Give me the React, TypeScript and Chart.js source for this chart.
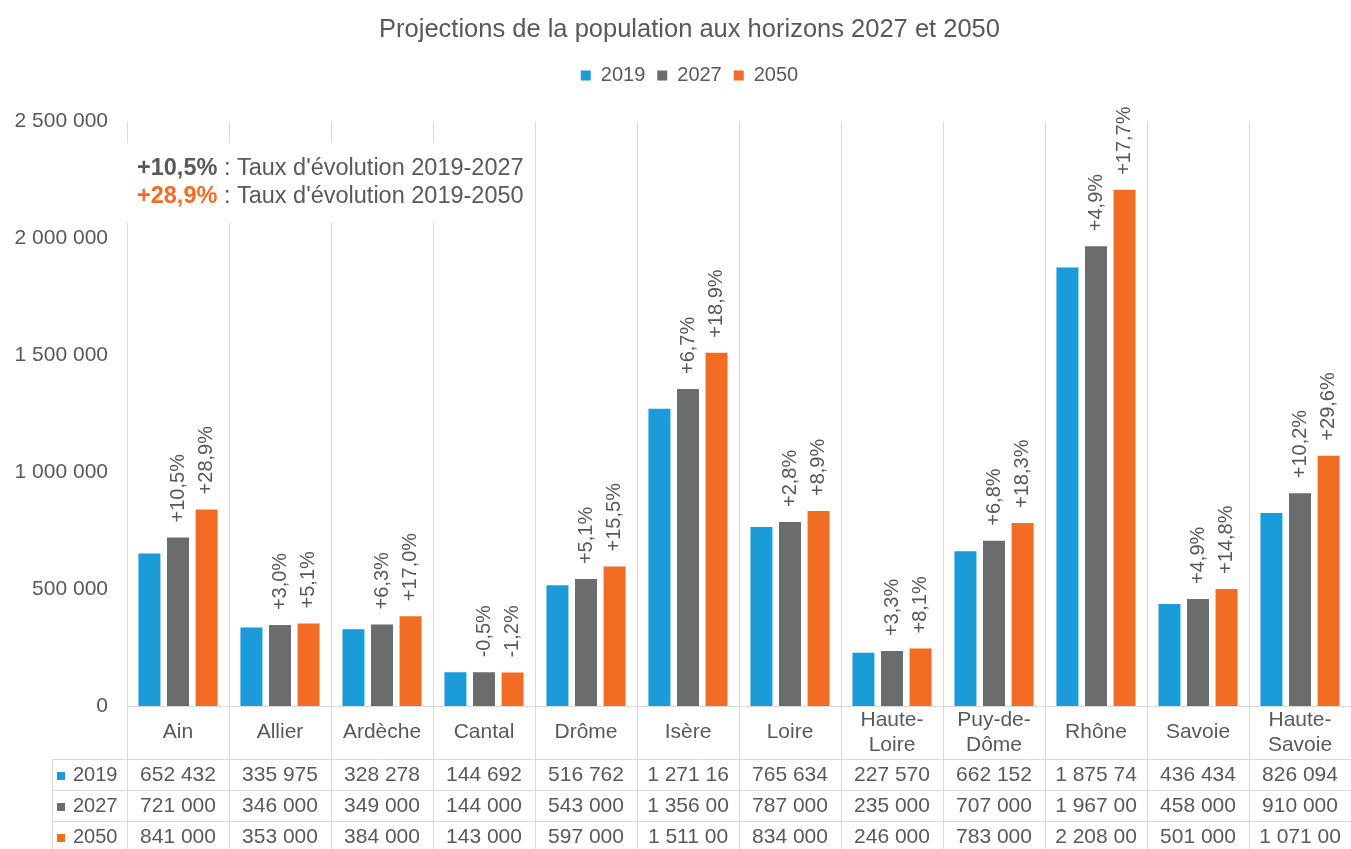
import React, { useEffect, useRef } from 'react';
import { Chart, registerables } from 'chart.js';

Chart.register(...registerables);

// ---------- data ----------
const categories: string[][] = [
  ['Ain'], ['Allier'], ['Ardèche'], ['Cantal'], ['Drôme'], ['Isère'], ['Loire'],
  ['Haute-', 'Loire'], ['Puy-de-', 'Dôme'], ['Rhône'], ['Savoie'], ['Haute-', 'Savoie'],
];
const seriesNames = ['2019', '2027', '2050'];
const pop2019 = [652432, 335975, 328278, 144692, 516762, 1271166, 765634, 227570, 662152, 1875747, 436434, 826094];
const pop2027 = [721000, 346000, 349000, 144000, 543000, 1356000, 787000, 235000, 707000, 1967000, 458000, 910000];
const pop2050 = [841000, 353000, 384000, 143000, 597000, 1511000, 834000, 246000, 783000, 2208000, 501000, 1071000];
const pct2027 = ['+10,5%', '+3,0%', '+6,3%', '-0,5%', '+5,1%', '+6,7%', '+2,8%', '+3,3%', '+6,8%', '+4,9%', '+4,9%', '+10,2%'];
const pct2050 = ['+28,9%', '+5,1%', '+17,0%', '-1,2%', '+15,5%', '+18,9%', '+8,9%', '+8,1%', '+18,3%', '+17,7%', '+14,8%', '+29,6%'];
const yMax = 2500000;
const yStep = 500000;
const titleText = 'Projections de la population aux horizons 2027 et 2050';
const noteLines: [string, string][] = [
  ['+10,5%', " : Taux d'évolution 2019-2027"],
  ['+28,9%', " : Taux d'évolution 2019-2050"],
];

// ---------- style ----------
const FONT = "'Liberation Sans', Arial, sans-serif";
const TEXT = '#595959';
const GRID = '#d9d9d9';
const COLORS = ['#1B9BD7', '#6B6C6E', '#F26C23'];
const NOTE_COLORS = [TEXT, '#F26C23'];

const fmt = (v: number) => String(v).replace(/\B(?=(\d{3})+(?!\d))/g, ' ');
const seriesData = [pop2019, pop2027, pop2050];
const pctLabels = [null, pct2027, pct2050];

const decorPlugin = {
  id: 'decor',
  afterLayout(chart: any) {
    // let the y tick labels use the full left margin (no clipping)
    if (chart.scales.y) chart.scales.y.left = 0;
  },
  beforeDatasetsDraw(chart: any) {
    const { ctx, chartArea } = chart;
    const x = chart.scales.x;
    const H = chart.height;
    const n = categories.length;
    const step = x.getPixelForValue(1) - x.getPixelForValue(0);
    ctx.save();
    ctx.strokeStyle = GRID;
    ctx.lineWidth = 1;
    // vertical separators (through plot and table)
    for (let i = 0; i <= n; i++) {
      const px = Math.round(x.getPixelForValue(0) - step / 2 + i * step) + 0.5;
      ctx.beginPath();
      ctx.moveTo(px, chartArea.top);
      ctx.lineTo(px, H);
      ctx.stroke();
    }
    // baseline
    const by = Math.round(chartArea.bottom) + 0.5;
    ctx.beginPath();
    ctx.moveTo(chartArea.left, by);
    ctx.lineTo(chartArea.right, by);
    ctx.stroke();
    // table rows
    const rowTop = chartArea.bottom + 53;
    const rowH = 31;
    const tableLeft = 52;
    for (let r = 0; r < 3; r++) {
      const ly = Math.round(rowTop + r * rowH) + 0.5;
      ctx.beginPath();
      ctx.moveTo(tableLeft, ly);
      ctx.lineTo(chartArea.right, ly);
      ctx.stroke();
    }
    ctx.beginPath();
    ctx.moveTo(tableLeft + 0.5, rowTop);
    ctx.lineTo(tableLeft + 0.5, H);
    ctx.stroke();

    // annotation box
    const bx = chartArea.left - 2;
    const bTop = chartArea.top + 21;
    ctx.fillStyle = '#ffffff';
    ctx.fillRect(bx, bTop, 404, 80);
    ctx.textBaseline = 'middle';
    ctx.textAlign = 'left';
    noteLines.forEach(([bold, rest], i) => {
      const ty = bTop + 26 + i * 28;
      ctx.font = `bold 23.5px ${FONT}`;
      ctx.fillStyle = NOTE_COLORS[i];
      ctx.fillText(bold, chartArea.left + 10, ty);
      const w = ctx.measureText(bold).width;
      ctx.font = `23.5px ${FONT}`;
      ctx.fillStyle = TEXT;
      ctx.fillText(rest, chartArea.left + 10 + w, ty);
    });
    ctx.restore();
  },
  afterDatasetsDraw(chart: any) {
    const { ctx } = chart;
    ctx.save();
    ctx.font = `20px ${FONT}`;
    ctx.fillStyle = TEXT;
    ctx.textAlign = 'left';
    ctx.textBaseline = 'middle';
    pctLabels.forEach((labels, d) => {
      if (!labels) return;
      const meta = chart.getDatasetMeta(d);
      meta.data.forEach((bar: any, i: number) => {
        ctx.save();
        ctx.translate(bar.x, bar.y - 15);
        ctx.rotate(-Math.PI / 2);
        ctx.fillText(labels[i], 0, 0);
        ctx.restore();
      });
    });
    ctx.restore();
  },
  afterDraw(chart: any) {
    const { ctx, chartArea } = chart;
    const x = chart.scales.x;
    ctx.save();
    ctx.fillStyle = TEXT;
    ctx.textBaseline = 'middle';
    ctx.textAlign = 'center';
    ctx.font = `21px ${FONT}`;
    // category header row
    const headMid = chartArea.bottom + 26.5;
    categories.forEach((lines, i) => {
      const cx = x.getPixelForValue(i);
      const lh = 25;
      const start = headMid - ((lines.length - 1) * lh) / 2;
      lines.forEach((ln, k) => ctx.fillText(ln, cx, start + k * lh));
    });
    // table
    const rowTop = chartArea.bottom + 53;
    const rowH = 31;
    seriesData.forEach((vals, r) => {
      const cy = rowTop + rowH * (r + 0.5) + 1;
      ctx.textAlign = 'center';
      ctx.fillStyle = TEXT;
      vals.forEach((v, i) => {
        ctx.fillText(fmt(v).slice(0, 8), x.getPixelForValue(i), cy);
      });
      ctx.fillStyle = COLORS[r];
      ctx.fillRect(57, Math.round(cy - 4), 8, 8);
      ctx.fillStyle = TEXT;
      ctx.textAlign = 'left';
      ctx.font = `20px ${FONT}`;
      ctx.fillText(seriesNames[r], 73, cy);
      ctx.font = `21px ${FONT}`;
    });
    ctx.restore();
  },
};

export default function App() {
  const ref = useRef<HTMLCanvasElement | null>(null);
  useEffect(() => {
    if (!ref.current) return;
    Chart.defaults.font.family = FONT;
    const chart = new Chart(ref.current, {
      type: 'bar',
      data: {
        labels: categories.map((c) => c.join('')),
        datasets: seriesNames.map((name, k) => ({
          label: name,
          data: seriesData[k],
          backgroundColor: COLORS[k],
          borderWidth: 0,
          barPercentage: 0.77,
          categoryPercentage: 0.84,
        })),
      },
      options: {
        animation: false,
        responsive: true,
        maintainAspectRatio: false,
        layout: { padding: { top: 0, left: 28, right: 0, bottom: 143 } },
        plugins: {
          title: {
            display: true,
            text: titleText,
            color: TEXT,
            font: { size: 25.5, weight: 'normal', family: FONT },
            padding: { top: 15, bottom: 8 },
          },
          legend: {
            display: true,
            position: 'top',
            labels: {
              boxWidth: 10,
              boxHeight: 10,
              color: TEXT,
              font: { size: 20, family: FONT },
              padding: 12,
            },
          },
          subtitle: {
            display: true,
            text: '',
            weight: 500,
            font: { size: 10 },
            padding: { top: 14, bottom: 0 },
          } as any,
          tooltip: { enabled: false },
        },
        scales: {
          x: {
            display: false,
            grid: { display: false },
          },
          y: {
            min: 0,
            max: yMax,
            border: { display: false },
            grid: { display: false, drawTicks: false },
            afterFit: (scale: any) => {
              scale.width = 99;
            },
            ticks: {
              stepSize: yStep,
              padding: 19,
              color: TEXT,
              font: { size: 21, family: FONT },
              callback: (v: any) => fmt(Number(v)),
            },
          },
        },
      },
      plugins: [decorPlugin],
    });
    return () => chart.destroy();
  }, []);
  return (
    <div style={{ position: 'fixed', left: 0, top: 0, width: 1351, height: 849, background: '#fff' }}>
      <canvas ref={ref} />
    </div>
  );
}
